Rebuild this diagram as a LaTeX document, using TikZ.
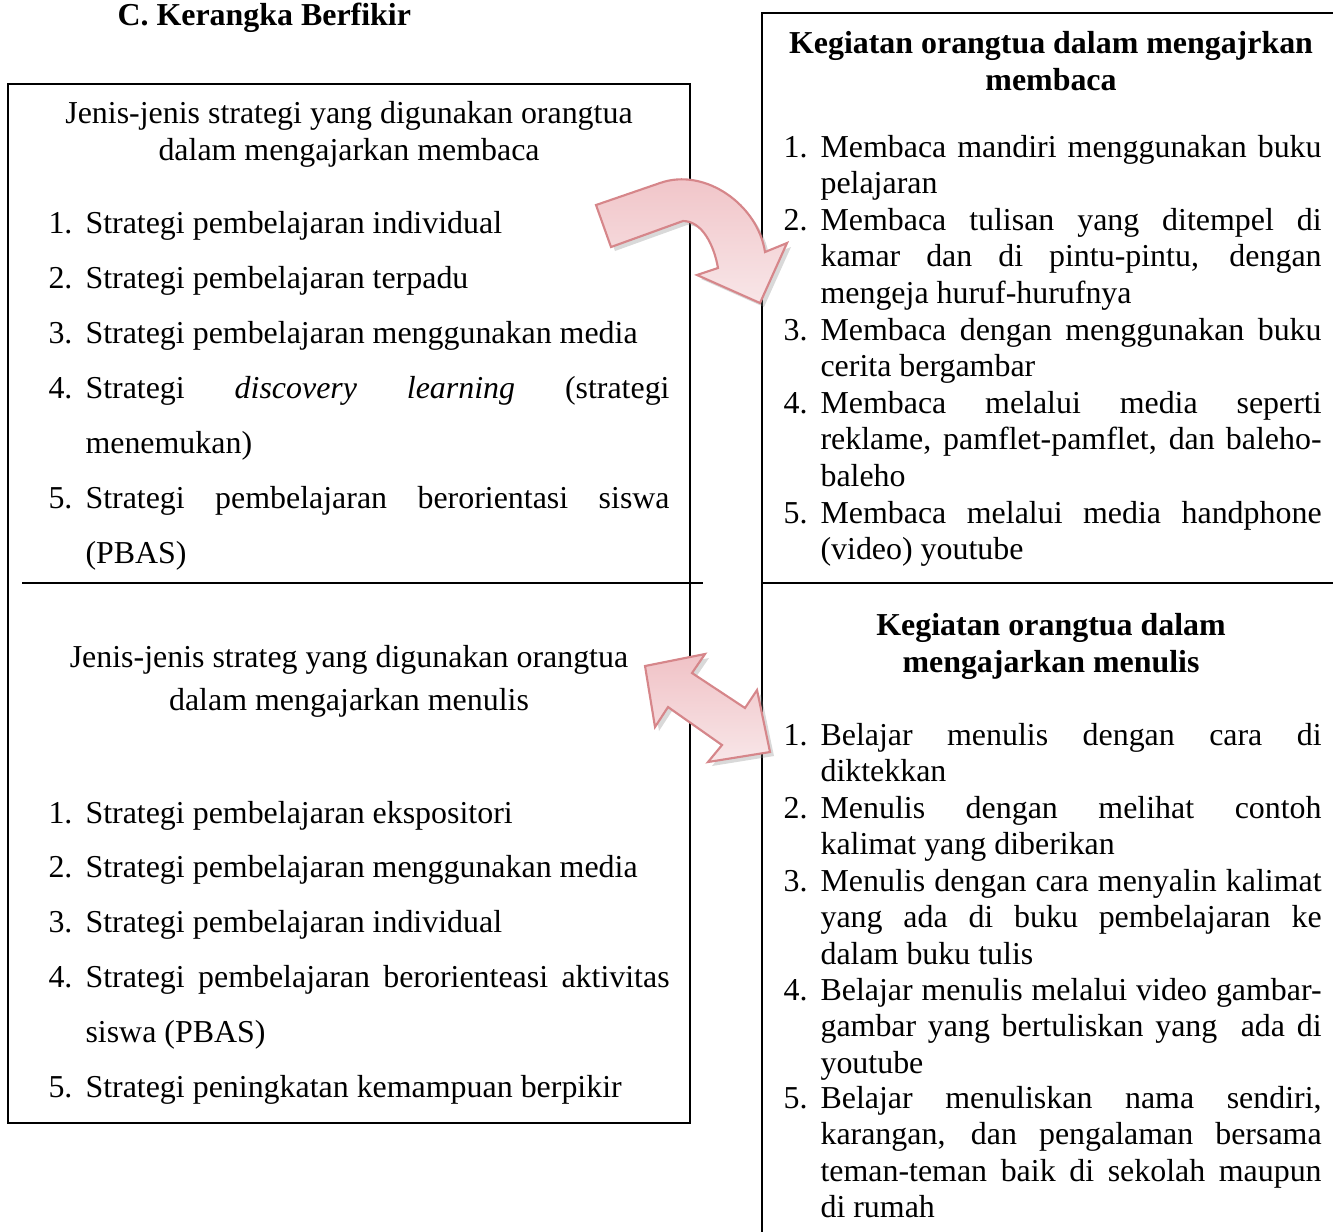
\documentclass[tikz,border=0pt]{standalone}
\usepackage{fontspec}
\setmainfont{Liberation Serif}
\usepackage{tikz}
\usetikzlibrary{shadows}
\definecolor{arrowfill}{RGB}{240,194,198}
\definecolor{arrowlight}{RGB}{248,230,232}
\definecolor{arrowline}{RGB}{214,134,138}
\tikzstyle{num}=[anchor=base west, inner sep=0pt]
\tikzstyle{lefttxt}=[anchor=base west, inner sep=0pt, text width=219.6pt, align=justify, font=\fontsize{12}{20.7}\selectfont]
\tikzstyle{righttxt}=[anchor=base west, inner sep=0pt, text width=188.4pt, align=justify, font=\fontsize{12}{13.76}\selectfont]
\tikzstyle{head}=[anchor=base, inner sep=0pt]
\tikzstyle{bighead}=[anchor=base, inner sep=0pt, font=\fontsize{12}{13.76}\selectfont\bfseries]
\tikzstyle{frame}=[line width=0.6pt]
\tikzstyle{blockarrow}=[draw=arrowline, line width=0.8pt, top color=arrowfill, bottom color=arrowlight, drop shadow={opacity=0.3, shadow xshift=1.5pt, shadow yshift=-1.5pt}]

\begin{document}
\begin{tikzpicture}[x=0.376pt, y=-0.376pt, font=\fontsize{12}{13.76}\selectfont]
\useasboundingbox (0,0) rectangle (1333,1231);
\clip (0,0) rectangle (1333,1231);
% the title
\node[num, font=\fontsize{12}{13.76}\selectfont\bfseries] (title) at (117,25) {C. Kerangka Berfikir};
% the frames
\draw[frame] (8,84) rectangle (690,1123);
\draw[frame] (762,1240) -- (762,13) -- (1340,13);
\draw[line width=0.8pt] (22,583) -- (703,583);
\draw[line width=0.8pt] (762,583) -- (1340,583);
% the strategies for reading
\node[head] (LH1) at (349,123) {Jenis-jenis strategi yang digunakan orangtua};
\node[head] (LH2) at (349,160) {dalam mengajarkan membaca};
\node[num] (La1) at (48,233) {1.};
\node[lefttxt] (LA1) at (85,233) {Strategi pembelajaran individual};
\node[num] (La2) at (48,288) {2.};
\node[lefttxt] (LA2) at (85,288) {Strategi pembelajaran terpadu};
\node[num] (La3) at (48,343) {3.};
\node[lefttxt] (LA3) at (85,343) {Strategi pembelajaran menggunakan media};
\node[num] (La4) at (48,398) {4.};
\node[lefttxt] (LA4) at (85,398) {Strategi \textit{discovery learning} (strategi\linebreak menemukan)};
\node[num] (La5) at (48,508) {5.};
\node[lefttxt] (LA5) at (85,508) {Strategi pembelajaran berorientasi siswa\linebreak (PBAS)};
% the strategies for writing
\node[head] (LH3) at (349,667) {Jenis-jenis strateg yang digunakan orangtua};
\node[head] (LH4) at (349,710) {dalam mengajarkan menulis};
\node[num] (Lb1) at (48,823) {1.};
\node[lefttxt] (LB1) at (85,823) {Strategi pembelajaran ekspositori};
\node[num] (Lb2) at (48,877) {2.};
\node[lefttxt] (LB2) at (85,877) {Strategi pembelajaran menggunakan media};
\node[num] (Lb3) at (48,932) {3.};
\node[lefttxt] (LB3) at (85,932) {Strategi pembelajaran individual};
\node[num] (Lb4) at (48,987) {4.};
\node[lefttxt] (LB4) at (85,987) {Strategi pembelajaran berorienteasi aktivitas\linebreak siswa (PBAS)};
\node[num] (Lb5) at (48,1097) {5.};
\node[lefttxt] (LB5) at (85,1097) {Strategi peningkatan kemampuan berpikir};
% the reading activities
\node[bighead] (RH1) at (1051,53) {Kegiatan orangtua dalam mengajrkan};
\node[bighead] (RH2) at (1051,90) {membaca};
\node[num] (Ra1) at (783,157) {1.};
\node[righttxt] (RA1) at (820,157) {Membaca mandiri menggunakan buku\linebreak pelajaran};
\node[num] (Ra2) at (783,230) {2.};
\node[righttxt] (RA2) at (820,230) {Membaca tulisan yang ditempel di\linebreak kamar dan di pintu-pintu, dengan\linebreak mengeja huruf-hurufnya};
\node[num] (Ra3) at (783,340) {3.};
\node[righttxt] (RA3) at (820,340) {Membaca dengan menggunakan buku\linebreak cerita bergambar};
\node[num] (Ra4) at (783,413) {4.};
\node[righttxt] (RA4) at (820,413) {Membaca melalui media seperti\linebreak reklame, pamflet-pamflet, dan baleho-\linebreak baleho};
\node[num] (Ra5) at (783,523) {5.};
\node[righttxt] (RA5) at (820,523) {Membaca melalui media handphone\linebreak (video) youtube};
% the writing activities
\node[bighead] (RH3) at (1051,635) {Kegiatan orangtua dalam};
\node[bighead] (RH4) at (1051,672) {mengajarkan menulis};
\node[num] (Rb1) at (783,745) {1.};
\node[righttxt] (RB1) at (820,745) {Belajar menulis dengan cara di\linebreak diktekkan};
\node[num] (Rb2) at (783,818) {2.};
\node[righttxt] (RB2) at (820,818) {Menulis dengan melihat contoh\linebreak kalimat yang diberikan};
\node[num] (Rb3) at (783,891) {3.};
\node[righttxt] (RB3) at (820,891) {Menulis dengan cara menyalin kalimat\linebreak yang ada di buku pembelajaran ke\linebreak dalam buku tulis};
\node[num] (Rb4) at (783,1000) {4.};
\node[righttxt] (RB4) at (820,1000) {Belajar menulis melalui video gambar-\linebreak gambar yang bertuliskan yang~ ada di\linebreak youtube};
\node[num] (Rb5) at (783,1108) {5.};
\node[righttxt] (RB5) at (820,1108) {Belajar menuliskan nama sendiri,\linebreak karangan, dan pengalaman bersama\linebreak teman-teman baik di sekolah maupun\linebreak di rumah};
% the curved arrow
\draw[blockarrow] (596,205) -- (660,183) .. controls (705,167) and (758,205) .. (765,252)
  -- (787,243) -- (760,303) -- (697,275) -- (718,268)
  .. controls (714,245) and (702,221) .. (683,221) -- (611,247) -- cycle;
% the double arrow
\draw[blockarrow] (645,666) -- (705,654) -- (692,673) -- (745,708) -- (757,690)
  -- (770,752) -- (708,762) -- (722,745) -- (668,707) -- (655,727) -- cycle;
\end{tikzpicture}
\end{document}
